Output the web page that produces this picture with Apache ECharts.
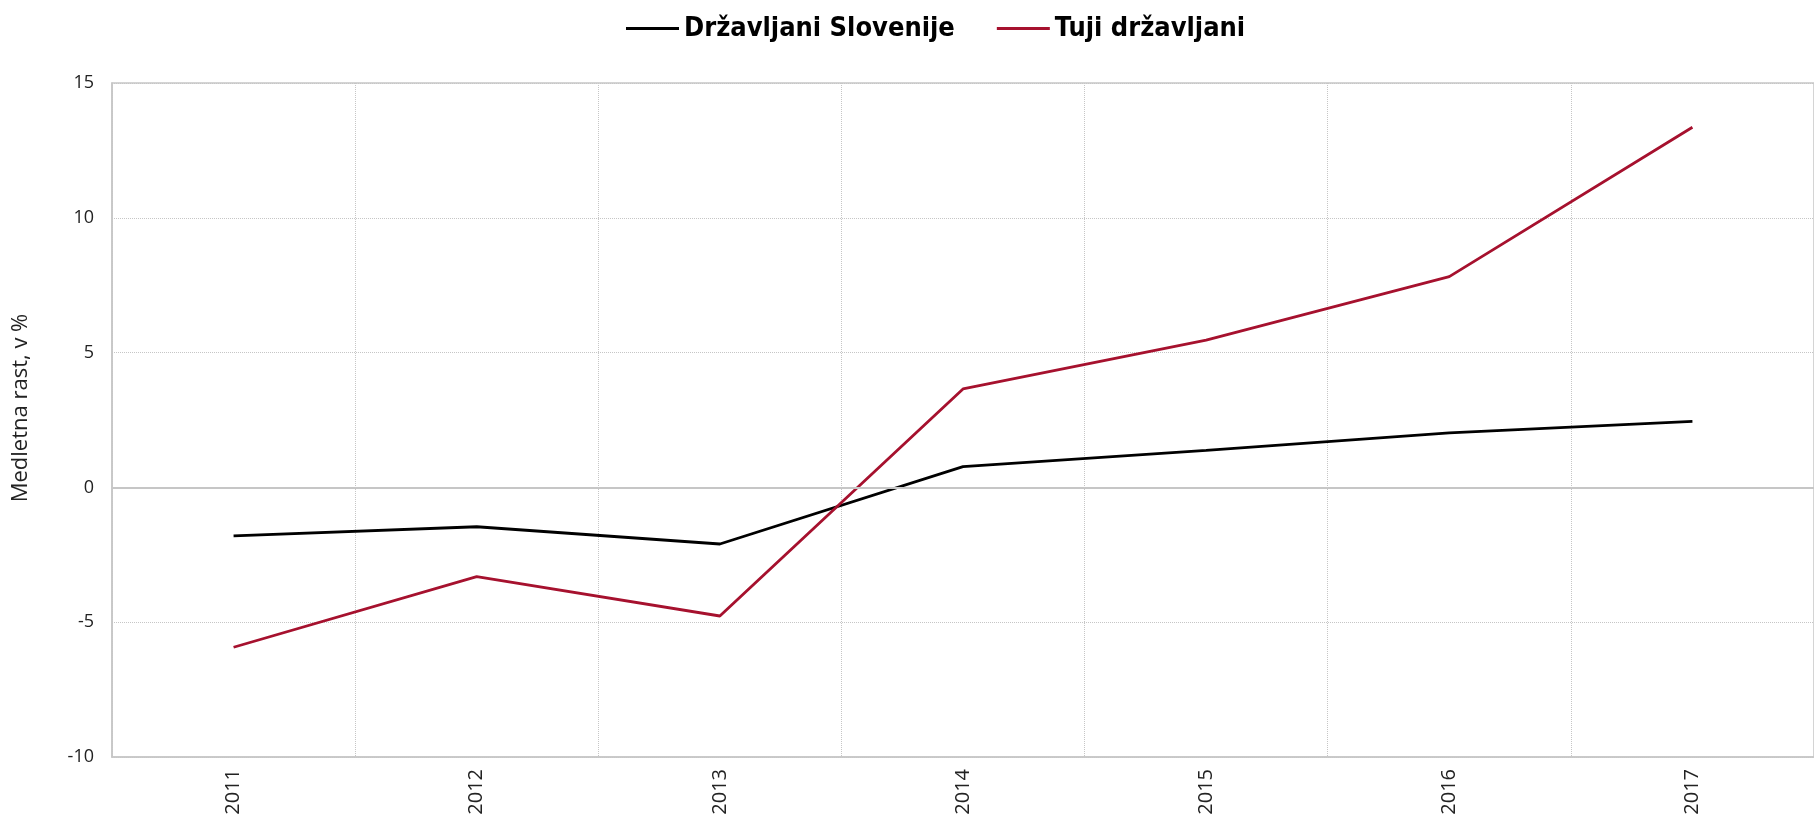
<!DOCTYPE html>
<html>
<head>
<meta charset="utf-8">
<script src="https://cdn.jsdelivr.net/npm/echarts@6/dist/echarts.min.js"></script>
<style>
  html, body { margin: 0; padding: 0; background: #fff; }
  #chart { width: 1814px; height: 821px; }
</style>
</head>
<body>
<div id="chart"></div>
<script>
// leta
const years = ["2011", "2012", "2013", "2014", "2015", "2016", "2017"];
// medletna rast, v %
const slovenci = [-1.8, -1.46, -2.1, 0.77, 1.37, 2.02, 2.45];
const tujci = [-5.93, -3.31, -4.77, 3.65, 5.46, 7.82, 13.36];
const yTicks = [-10, -5, 0, 5, 10, 15];

const gridColor = "#c6c6c6";
const myChart = echarts.init(document.getElementById("chart"));

myChart.setOption({
  animation: false,
  backgroundColor: "#fff",
  textStyle: { fontFamily: "Open Sans" },
  legend: {
    top: 10,
    left: 621,
    itemGap: 42,
    itemWidth: 53,
    itemHeight: 3,
    icon: "rect",
    textStyle: {
      fontFamily: "DejaVu Sans Condensed",
      fontWeight: "bold",
      fontSize: 27,
      color: "#000"
    },
    data: ["Državljani Slovenije", "Tuji državljani"]
  },
  grid: {
    left: 112,
    top: 83,
    bottom: 64,
    right: -11,
    show: true,
    borderColor: gridColor,
    borderWidth: 1.5
  },
  xAxis: {
    type: "category",
    data: years,
    boundaryGap: true,
    axisLine: { show: true, onZero: false, lineStyle: { color: gridColor, width: 1.5 } },
    axisTick: { show: false },
    axisLabel: { rotate: 90, fontSize: 20, color: "#222", margin: 12 },
    splitLine: { show: true, lineStyle: { type: "dotted", color: gridColor } }
  },
  yAxis: {
    type: "value",
    min: yTicks[0],
    max: yTicks[yTicks.length - 1],
    interval: 5,
    name: "Medletna rast, v %",
    nameLocation: "middle",
    nameGap: 80,
    nameTextStyle: { fontSize: 22, color: "#222", padding: [0, 0, 0, 24] },
    axisLine: { show: true, lineStyle: { color: gridColor, width: 1.5 } },
    axisTick: { show: false },
    axisLabel: { fontSize: 18, color: "#222", margin: 18 },
    splitLine: { show: true, lineStyle: { type: "dotted", color: gridColor } }
  },
  series: [
    {
      name: "Državljani Slovenije",
      type: "line",
      data: slovenci,
      symbol: "none",
      color: "#000",
      lineStyle: { width: 2.8, color: "#000" },
      markLine: {
        silent: true,
        symbol: ["none", "none"],
        label: { show: false },
        lineStyle: { color: gridColor, type: "solid", width: 2 },
        data: [{ yAxis: 0 }]
      }
    },
    {
      name: "Tuji državljani",
      type: "line",
      data: tujci,
      symbol: "none",
      color: "#a6112e",
      lineStyle: { width: 2.8, color: "#a6112e" }
    }
  ]
});
</script>
</body>
</html>
